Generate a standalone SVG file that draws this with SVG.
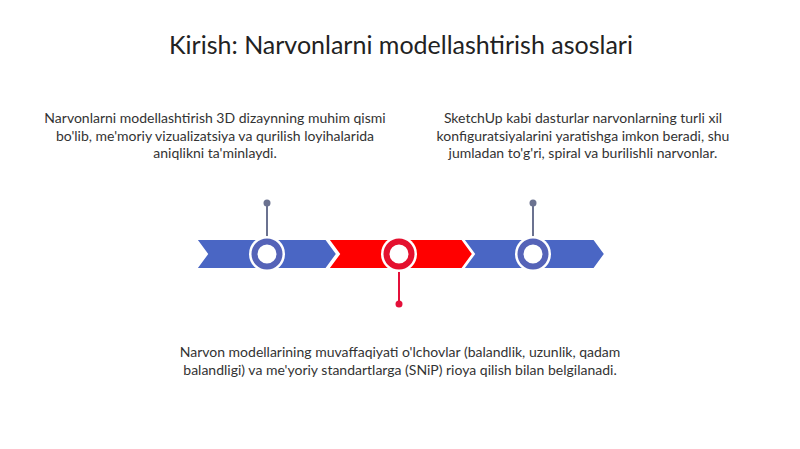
<svg xmlns="http://www.w3.org/2000/svg" width="800" height="449" viewBox="0 0 800 449">
<style>
.t{font-family:Lato,"Liberation Sans",sans-serif;fill:#333;text-anchor:middle}
.title{font-size:25px;fill:#222}
.body{font-size:14px}
.seg{stroke:#fff;stroke-width:2;stroke-linejoin:miter}
.blue{fill:#4A66C4}
.red{fill:#FF0000}
.ringB{fill:#fff;stroke:#5563B8;stroke-width:6}
.ringR{fill:#fff;stroke:#E4102E;stroke-width:6}
.halo{fill:#fff}
.stemB{stroke:#6B7290;stroke-width:2}
.stemR{stroke:#E4103A;stroke-width:2}
</style>
<rect width="800" height="449" fill="#fff"/>
<g id="title"><text class="t title" x="401" y="54">Kirish: Narvonlarni modellashtirish asoslari</text></g>
<g id="connectors">
<line class="stemB" x1="267" y1="203" x2="267" y2="240"/>
<circle cx="267" cy="203" r="3.5" fill="#6B7290"/>
<line class="stemB" x1="533" y1="203" x2="533" y2="240"/>
<circle cx="533" cy="203" r="3.5" fill="#6B7290"/>
<line class="stemR" x1="399" y1="266" x2="399" y2="304"/>
<circle cx="399" cy="304" r="3.5" fill="#E4103A"/>
</g>
<g id="segment1"><path class="seg blue" d="M196,239 L326,239 L337,254 L326,269 L196,269 L207,254 Z"/></g>
<g id="segment2"><path class="seg red" d="M328,239 L462,239 L473,254 L462,269 L328,269 L339,254 Z"/></g>
<g id="segment3"><path class="seg blue" d="M463,239 L594,239 L605,254 L594,269 L463,269 L474,254 Z"/></g>
<g id="marker1"><circle class="halo" cx="267" cy="254" r="18"/><circle class="ringB" cx="267" cy="254" r="12.5"/></g>
<g id="marker2"><circle class="halo" cx="399" cy="254" r="18"/><circle class="ringR" cx="399" cy="254" r="12.5"/></g>
<g id="marker3"><circle class="halo" cx="533" cy="254" r="18"/><circle class="ringB" cx="533" cy="254" r="12.5"/></g>
<g id="text1"><text class="t body" x="215" y="123"><tspan x="215">Narvonlarni modellashtirish 3D dizaynning muhim qismi</tspan><tspan x="215" dy="17.5">bo'lib, me'moriy vizualizatsiya va qurilish loyihalarida</tspan><tspan x="215" dy="17.5">aniqlikni ta'minlaydi.</tspan></text></g>
<g id="text2"><text class="t body" x="583" y="123"><tspan x="583">SketchUp kabi dasturlar narvonlarning turli xil</tspan><tspan x="583" dy="17.5">konfiguratsiyalarini yaratishga imkon beradi, shu</tspan><tspan x="583" dy="17.5">jumladan to'g'ri, spiral va burilishli narvonlar.</tspan></text></g>
<g id="text3"><text class="t body" x="400" y="357"><tspan x="400">Narvon modellarining muvaffaqiyati o'lchovlar (balandlik, uzunlik, qadam</tspan><tspan x="400" dy="17.5">balandligi) va me'yoriy standartlarga (SNiP) rioya qilish bilan belgilanadi.</tspan></text></g>
</svg>
